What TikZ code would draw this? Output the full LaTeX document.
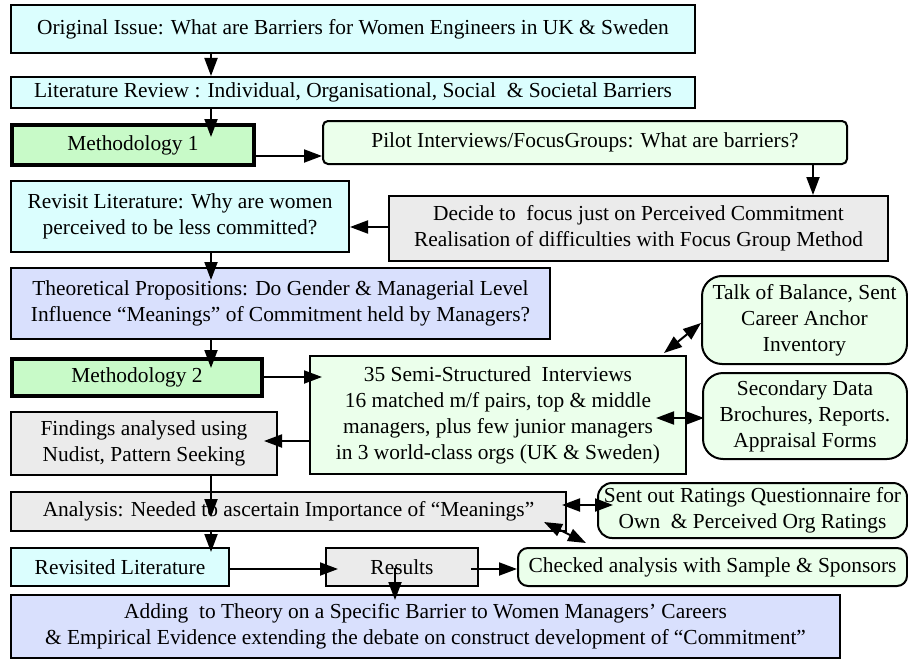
\documentclass[tikz,border=0pt]{standalone}
\usepackage{fontspec}
\setmainfont{Liberation Serif}
\usetikzlibrary{arrows.meta,calc}

\definecolor{cyanbox}{HTML}{DBFEFE}
\definecolor{methbox}{HTML}{C8FAC8}
\definecolor{lavbox}{HTML}{D9E0FD}
\definecolor{graybox}{HTML}{EBEBEB}
\definecolor{mintbox}{HTML}{EBFFEB}

\tikzset{
  base/.style={draw=black, line width=2pt, inner sep=0pt, align=center,
    anchor=north west, font=\fontsize{21.4}{26}\selectfont},
  cyanstep/.style={base, fill=cyanbox},
  methstep/.style={base, fill=methbox, line width=4pt},
  lavstep/.style={base, fill=lavbox},
  graystep/.style={base, fill=graybox},
  mintstep/.style={base, fill=mintbox},
  roundstep/.style={base, fill=mintbox, rounded corners=#1},
  arr/.style={line width=2pt, -{Triangle[length=18pt,width=13pt]}},
  darr/.style={line width=2pt, {Triangle[length=18pt,width=13pt]}-{Triangle[length=18pt,width=13pt]}},
}

\begin{document}
\begin{tikzpicture}[x=1pt,y=-1pt]
\useasboundingbox (0,0) rectangle (908,661);

% boxes
\node[cyanstep, minimum width=684pt, minimum height=48pt] (orig) at (10,4)
  {Original Issue: What are Barriers for Women Engineers in UK \& Sweden};
\node[cyanstep, minimum width=684pt, minimum height=31pt] (lit) at (10,76)
  {Literature Review : Individual, Organisational, Social \ \& Societal Barriers};
\node[methstep, minimum width=242pt, minimum height=40pt] (meth1) at (10,123)
  {Methodology 1};
\node[roundstep=5pt, minimum width=524pt, minimum height=43pt] (pilot) at (322,120)
  {Pilot Interviews/FocusGroups: What are barriers?};
\node[graystep, minimum width=499pt, minimum height=65pt] (decide) at (388,195)
  {Decide to \ focus just on Perceived Commitment\\Realisation of difficulties with Focus Group Method};
\node[cyanstep, minimum width=338pt, minimum height=71pt] (revisit) at (10,180)
  {Revisit Literature: Why are women\\perceived to be less committed?};
\node[lavstep, minimum width=539pt, minimum height=71pt] (theo) at (10,267)
  {Theoretical Propositions: Do Gender \& Managerial Level\\Influence “Meanings” of Commitment held by Managers?};
\node[methstep, minimum width=250pt, minimum height=37pt] (meth2) at (10,357)
  {Methodology 2};
\node[mintstep, minimum width=376pt, minimum height=118pt] (semi) at (309,355)
  {35 Semi-Structured \ Interviews\\16 matched m/f pairs, top \& middle\\managers, plus few junior managers\\in 3 world-class orgs (UK \& Sweden)};
\node[graystep, minimum width=266pt, minimum height=63pt] (findings) at (10,411)
  {Findings analysed using\\Nudist, Pattern Seeking};
\node[roundstep=20pt, minimum width=205pt, minimum height=88pt] (talk) at (701,275)
  {Talk of Balance, Sent\\Career Anchor\\Inventory};
\node[roundstep=20pt, minimum width=204pt, minimum height=86pt] (second) at (702,372)
  {Secondary Data\\Brochures, Reports.\\Appraisal Forms};
\node[graystep, minimum width=555pt, minimum height=39pt] (analysis) at (10,491)
  {Analysis: Needed to ascertain Importance of “Meanings”};
\node[roundstep=14pt, minimum width=309pt, minimum height=55pt] (ratings) at (597,482)
  {Sent out Ratings Questionnaire for\\Own \ \& Perceived Org Ratings};
\node[cyanstep, minimum width=218pt, minimum height=38pt] (revlit) at (10,547)
  {Revisited Literature};
\node[graystep, minimum width=152pt, minimum height=38pt] (results) at (325,547)
  {Results};
\node[roundstep=10pt, minimum width=389pt, minimum height=38pt] (checked) at (517,547)
  {Checked analysis with Sample \& Sponsors};
\node[lavstep, minimum width=829pt, minimum height=63pt] (adding) at (10,594)
  {Adding \ to Theory on a Specific Barrier to Women Managers’ Careers\\\& Empirical Evidence extending the debate on construct development of “Commitment”};

% main vertical spine
\coordinate (spine) at (211,0);
\draw[arr] (orig.south -| spine) -- (lit.north -| spine);
\draw[arr] (lit.south -| spine) -- ($(meth1.north -| spine)+(0,14)$);
\draw[arr] (revisit.south -| spine) -- ($(theo.north -| spine)+(0,13)$);
\draw[arr] (theo.south -| spine) -- ($(meth2.north -| spine)+(0,11)$);
\draw[arr] (findings.south -| spine) -- ($(analysis.north -| spine)+(0,26)$);
\draw[arr] (analysis.south -| spine) -- ($(revlit.north -| spine)+(0,5)$);

% side connectors
\draw[arr] ($(meth1.east)+(0,11)$) -- (pilot.west |- {$(meth1.east)+(0,11)$});
\draw[arr] (pilot.south -| 813,0) -- (decide.north -| 813,0);
\draw[arr] (decide.west |- 0,227) -- (revisit.east |- 0,227);
\draw[arr] (meth2.east |- 0,377) -- ($(semi.west |- 0,377)+(13,0)$);
\draw[arr] (semi.west |- 0,441) -- ($(findings.east |- 0,441)+(-14,0)$);
\draw[arr] (revlit.east |- 0,569) -- ($(results.west |- 0,569)+(13,0)$);
\draw[arr] ($(results.east |- 0,569)+(-8,0)$) -- (checked.west |- 0,569);
\draw[arr] ($(results.north west)+(70,21)$) -- ($(adding.north west)+(385,6)$);

% two-way links
\draw[darr] ($(semi.north east)+(-23,-2)$) -- ($(talk.west)+(0,3)$);
\draw[darr] ($(semi.east |- 0,418)+(-31,0)$) -- ($(second.west |- 0,418)+(2,0)$);
\draw[darr] ($(analysis.east |- 0,505)+(-5,0)$) -- ($(ratings.west |- 0,505)+(16,0)$);
\draw[darr] ($(analysis.north east)+(-23,31)$) -- ($(checked.north west)+(69,-4)$);
\end{tikzpicture}
\end{document}
